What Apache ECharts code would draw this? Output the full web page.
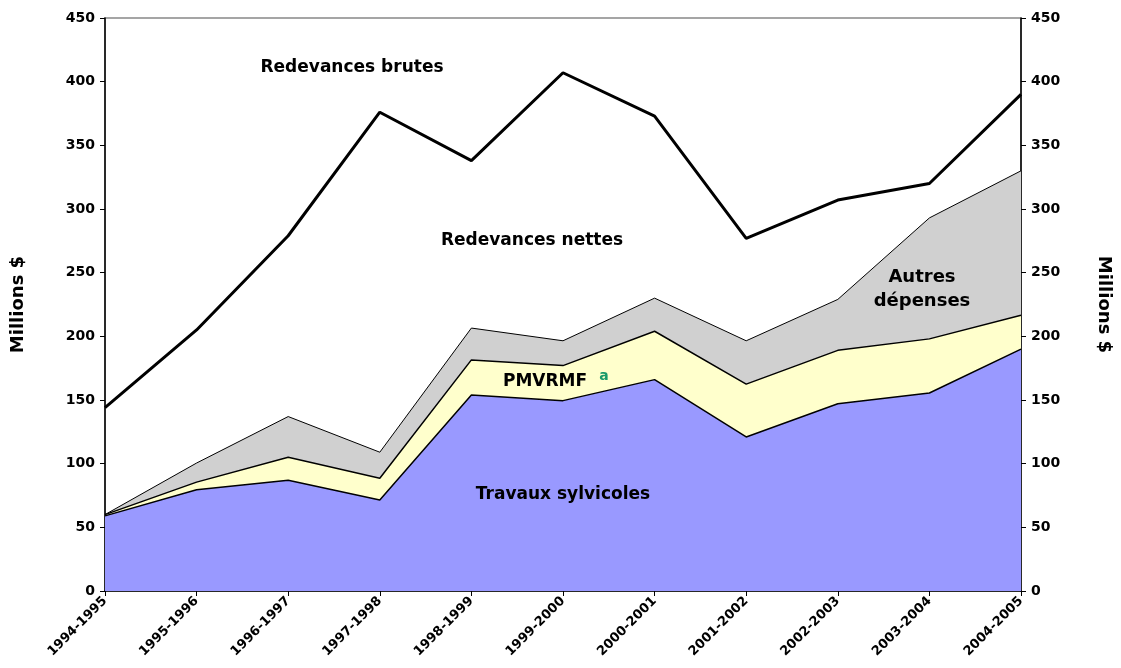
<!DOCTYPE html>
<html><head><meta charset="utf-8">
<script src="https://cdn.jsdelivr.net/npm/echarts@6/dist/echarts.min.js"></script>
<style>html,body{margin:0;padding:0;background:#fff}#c{width:1121px;height:668px}</style>
</head><body><div id="c"></div>
<script>
const categories = ['1994-1995','1995-1996','1996-1997','1997-1998','1998-1999','1999-2000','2000-2001','2001-2002','2002-2003','2003-2004','2004-2005'];
const travaux = [59, 79.5, 87, 71.5, 154, 149.5, 166, 121, 147, 155.5, 190];
const pmvrmf = [1, 6, 18, 17, 27.5, 27.5, 38, 41.5, 42, 42.5, 26.5];
const autres = [0, 15, 32, 20.5, 25, 19.5, 26, 34, 40, 95, 113.5];
const brutes = [144, 205, 279, 376, 338, 407, 373, 277, 307, 320, 390];
const yTicks = [0, 50, 100, 150, 200, 250, 300, 350, 400, 450];

const FONT = 'DejaVu Sans';
const chart = echarts.init(document.getElementById('c'));
const yAxisBase = {
  type: 'value', min: 0, max: 450, interval: 50,
  name: 'Millions $', nameLocation: 'middle',
  nameTextStyle: {fontFamily: FONT, fontWeight: 'bold', fontSize: 18, color: '#000'},
  axisLine: {show: true, lineStyle: {color: '#000', width: 1.5}},
  axisTick: {show: true, length: 5, lineStyle: {color: '#000'}},
  axisLabel: {fontFamily: FONT, fontWeight: 'bold', fontSize: 14, color: '#000', margin: 10,
    formatter: v => yTicks.indexOf(v) >= 0 ? String(v) : ''},
  splitLine: {show: false}
};
const T = (text, x, y, size, extra) => Object.assign({type: 'text', x: x, y: y, z: 10,
  style: {text: text, font: 'bold ' + size + 'px "DejaVu Sans"', fill: '#000', align: 'center', verticalAlign: 'middle', lineHeight: 24}}, extra || {});
chart.setOption({
  animation: false,
  grid: {left: 105, right: 99, top: 18, bottom: 77, show: true, borderColor: '#888', borderWidth: 1.5, backgroundColor: '#fff'},
  xAxis: {
    type: 'category', data: categories, boundaryGap: false,
    axisLine: {lineStyle: {color: '#000', width: 1.5}},
    axisTick: {show: true, length: 5, lineStyle: {color: '#000'}},
    axisLabel: {rotate: 45, fontFamily: FONT, fontWeight: 'bold', fontSize: 13, color: '#000', margin: 8, interval: 0}
  },
  yAxis: [
    Object.assign({}, yAxisBase, {position: 'left', nameGap: 78, nameRotate: 90}),
    Object.assign({}, yAxisBase, {position: 'right', nameGap: 74, nameRotate: -90})
  ],
  series: [
    {name: 'Travaux sylvicoles', type: 'line', stack: 's', data: travaux, symbol: 'none',
     lineStyle: {color: '#000', width: 1.5}, areaStyle: {color: '#9999FF', opacity: 1}, z: 3},
    {name: 'PMVRMF', type: 'line', stack: 's', data: pmvrmf, symbol: 'none',
     lineStyle: {color: '#000', width: 1.5}, areaStyle: {color: '#FFFFCC', opacity: 1}, z: 2},
    {name: 'Autres dépenses', type: 'line', stack: 's', data: autres, symbol: 'none',
     lineStyle: {color: '#000', width: 1}, areaStyle: {color: '#D0D0D0', opacity: 1}, z: 1},
    {name: 'Redevances brutes', type: 'line', data: brutes, symbol: 'none',
     lineStyle: {color: '#000', width: 3}, z: 4}
  ],
  graphic: [
    T('Redevances brutes', 352, 68, 17),
    T('Redevances nettes', 532, 241, 17),
    T('PMVRMF', 545, 382, 17),
    {type: 'text', x: 604, y: 376, z: 10, style: {text: 'a', font: 'bold 14px "DejaVu Sans"', fill: '#1a9a6a', align: 'center', verticalAlign: 'middle'}},
    T('Travaux sylvicoles', 563, 495, 17),
    T('Autres', 922, 277, 18),
    T('dépenses', 922, 301, 18)
  ]
});
</script></body></html>
